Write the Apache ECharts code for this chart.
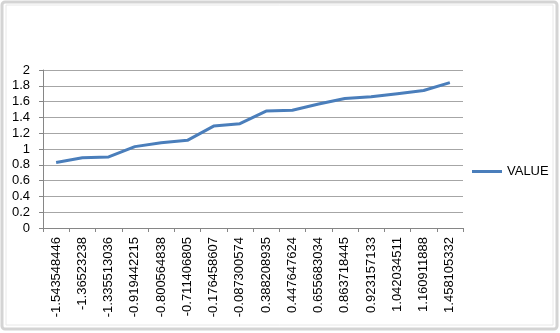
<!DOCTYPE html>
<html>
<head>
<meta charset="utf-8">
<script src="https://cdn.jsdelivr.net/npm/echarts@6/dist/echarts.min.js"></script>
<style>
html,body{margin:0;padding:0;background:#fff;}
#chart{width:560px;height:333px;}
</style>
</head>
<body>
<div id="chart"></div>
<script>
const categories = ["-1.543548446","-1.36523238","-1.335513036","-0.919442215","-0.800564838","-0.711406805","-0.176458607","-0.087300574","0.388208935","0.447647624","0.655683034","0.863718445","0.923157133","1.042034511","1.160911888","1.458105332"];
const values = [0.83,0.89,0.90,1.03,1.08,1.11,1.29,1.32,1.48,1.49,1.57,1.64,1.66,1.70,1.74,1.84];
const seriesName = "VALUE";
const yTicks = {min:0, max:2, interval:0.2};

const chart = echarts.init(document.getElementById('chart'), null, {renderer:'canvas'});
const font = 'Liberation Sans, Arial, sans-serif';
chart.setOption({
  animation:false,
  backgroundColor:'#fff',
  graphic:[
    {type:'rect', shape:{x:2, y:2, width:555, height:327, r:3}, style:{fill:'none', stroke:'#d4d4d4', lineWidth:3}, z:-1},
    {type:'rect', shape:{x:6, y:5, width:547, height:320}, style:{fill:'none', stroke:'#e8e8e8', lineWidth:1}, z:-1}
  ],
  grid:{left:43, right:97, top:70, bottom:105, containLabel:false},
  legend:{
    data:[{name:seriesName, icon:'rect'}],
    orient:'vertical', left:467, top:160,
    itemWidth:30, itemHeight:3, itemGap:5,
    textStyle:{fontFamily:font, fontSize:13, color:'#000'}
  },
  xAxis:{
    type:'category', data:categories, boundaryGap:true,
    axisLine:{lineStyle:{color:'#868686', width:1}},
    axisTick:{show:true, alignWithLabel:false, length:4, lineStyle:{color:'#868686'}},
    axisLabel:{rotate:90, interval:0, margin:9, fontFamily:font, fontSize:13, color:'#000'}
  },
  yAxis:{
    type:'value', min:yTicks.min, max:yTicks.max, interval:yTicks.interval,
    axisLine:{show:true, lineStyle:{color:'#868686', width:1}},
    axisTick:{show:true, length:4, lineStyle:{color:'#868686'}},
    splitLine:{show:true, lineStyle:{color:'#a6a6a6', width:1}},
    axisLabel:{margin:13, fontFamily:font, fontSize:13, color:'#000',
      formatter:function(v){return String(Math.round(v*10)/10);}}
  },
  series:[{
    name:seriesName, type:'line', data:values,
    showSymbol:false, symbol:'none',
    lineStyle:{color:'#4a7ebb', width:3},
    itemStyle:{color:'#4a7ebb'}
  }]
});
</script>
</body>
</html>
